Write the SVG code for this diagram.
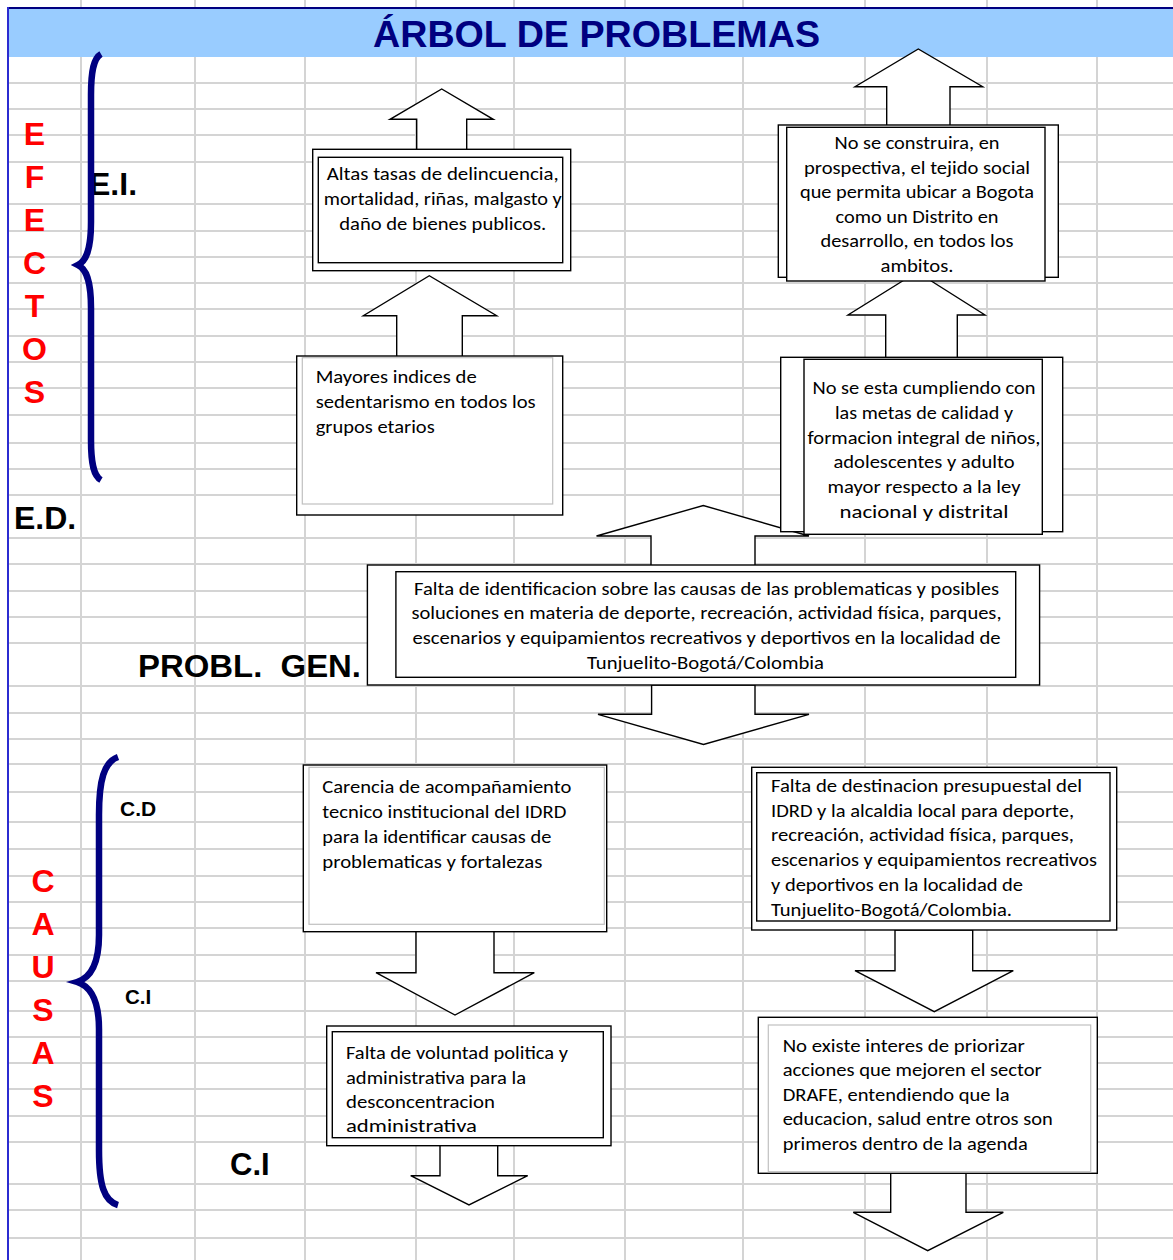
<svg xmlns="http://www.w3.org/2000/svg" width="1173" height="1260" viewBox="0 0 1173 1260">
<style>
.grid{stroke:#d4d4d4;stroke-width:2;fill:none}
.box{fill:#fff;stroke:#000;stroke-width:1.4}
.inner{fill:none;stroke:#000;stroke-width:1.4}
.inner-g{fill:none;stroke:#c0c0c0;stroke-width:1.2}
.arrow{fill:#fff;stroke:#000;stroke-width:1.4;stroke-linejoin:miter}
.brace{fill:none;stroke:#000080;stroke-width:6.5;stroke-linecap:butt}
.t{font-family:Carlito,Calibri,Lato,sans-serif;font-size:17.5px;fill:#000}
.c{text-anchor:middle}
.red{font-family:"Liberation Sans",Arial,sans-serif;font-weight:bold;font-size:32px;fill:#ff0000;text-anchor:middle}
.lbl{font-family:"Liberation Sans",Arial,sans-serif;font-weight:bold;fill:#000}
</style>
<rect width="1173" height="1260" fill="#fff"/>
<g id="grid">
<path class="grid" d="M81 0V8M195 0V8M305 0V8M416 0V8M514 0V8M625 0V8M743 0V8M865 0V8M987 0V8M1097 0V8
M81 57V1260M195 57V1260M305 57V1260M416 57V1260M514 57V1260M625 57V1260M743 57V1260M865 57V1260M987 57V1260M1097 57V1260
M8 83H1173M8 109H1173M8 135H1173M8 162H1173M8 204H1173M8 231H1173M8 257H1173M8 283H1173M8 309H1173M8 336H1173M8 362H1173M8 388H1173M8 415H1173M8 443H1173M8 469H1173M8 495H1173M8 538H1173M8 564H1173M8 591H1173M8 617H1173M8 643H1173M8 686H1173M8 713H1173M8 739H1173M8 764H1173M8 792H1173M8 822H1173M8 849H1173M8 876H1173M8 902H1173M8 928H1173M8 955H1173M8 981H1173M8 1011H1173M8 1037H1173M8 1063H1173M8 1089H1173M8 1116H1173M8 1142H1173M8 1184H1173M8 1210H1173M8 1238H1173"/>
</g>
<g id="header">
<rect x="8" y="8" width="1165" height="49" fill="#99ccff"/>
<line x1="8" y1="8" x2="1173" y2="8" stroke="#000080" stroke-width="2"/>
<line x1="8" y1="7" x2="8" y2="1260" stroke="#2b2bd0" stroke-width="2"/>
<text x="596.5" y="47" font-family="Liberation Sans, Arial, sans-serif" font-weight="bold" font-size="37" fill="#000080" text-anchor="middle" textLength="447" lengthAdjust="spacingAndGlyphs">ÁRBOL DE PROBLEMAS</text>
</g>
<g id="labels">
<text class="red" x="34.5" y="145">E</text>
<text class="red" x="34.5" y="188">F</text>
<text class="red" x="34.5" y="231">E</text>
<text class="red" x="34.5" y="274">C</text>
<text class="red" x="34.5" y="317">T</text>
<text class="red" x="34.5" y="360">O</text>
<text class="red" x="34.5" y="403">S</text>
<text class="red" x="43" y="892">C</text>
<text class="red" x="43" y="935">A</text>
<text class="red" x="43" y="978">U</text>
<text class="red" x="43" y="1021">S</text>
<text class="red" x="43" y="1064">A</text>
<text class="red" x="43" y="1107">S</text>
<text class="lbl" x="89" y="195" font-size="32">E.I.</text>
<text class="lbl" x="14" y="529" font-size="32">E.D.</text>
<text class="lbl" x="138" y="677" font-size="32" xml:space="preserve" textLength="223" lengthAdjust="spacingAndGlyphs">PROBL.  GEN.</text>
<text class="lbl" x="120" y="816" font-size="21">C.D</text>
<text class="lbl" x="125" y="1004" font-size="20.5">C.I</text>
<text class="lbl" x="230" y="1175" font-size="31">C.I</text>
</g>
<g id="braces">
<path class="brace" d="M101 54 C94 58 91 70 91 95 L91 222 C91 250 86 261 78 265 C86 269 91 280 91 308 L91 440 C91 465 94 476 101 480"/>
<path class="brace" d="M118 757 C104 762 99 780 99 815 L99 935 C99 965 90 978 77 982 C90 986 99 999 99 1029 L99 1150 C99 1185 104 1201 118 1205"/>
</g>
<g id="connectors">
<polygon class="arrow" points="416.7,150 416.7,119.3 390,119.3 441.7,89 493.3,119.3 466.7,119.3 466.7,150"/>
<polygon class="arrow" points="886.7,126 886.7,86.7 855,86.7 918.3,49 982.7,86.7 950,86.7 950,126"/>
<polygon class="arrow" points="396.7,357 396.7,315.7 363.3,315.7 429.3,275.7 496.7,315.7 462.3,315.7 462.3,357"/>
<polygon class="arrow" points="885.7,358 885.7,315 848,315 917,272 985,315 957.3,315 957.3,358"/>
<polygon class="arrow" points="651,566 651,536 596.5,536 703.3,505.5 809,536 755,536 755,566"/>
<polygon class="arrow" points="651.6,685 651.6,714.3 598,714.3 703.5,744.5 809,714.3 755,714.3 755,685"/>
<polygon class="arrow" points="416,931 416,972.7 376,972.7 455,1015 534.3,972.7 494,972.7 494,931"/>
<polygon class="arrow" points="440,1145 440,1175.7 410.7,1175.7 469,1205 527.7,1175.7 497.7,1175.7 497.7,1145"/>
<polygon class="arrow" points="895,930 895,970.7 855,970.7 934.3,1011.7 1013.3,970.7 972.7,970.7 972.7,930"/>
<polygon class="arrow" points="890.7,1173 890.7,1212.3 853.3,1212.3 927.7,1250.7 1003.3,1212.3 966,1212.3 966,1173"/>
</g>
<g id="node-altas-tasas">
<rect class="box" x="312.7" y="149.3" width="258" height="121.4"/>
<rect class="inner" x="318.3" y="157.3" width="244.4" height="105.4"/>
<text class="t c" x="442.7" y="180" textLength="232" lengthAdjust="spacingAndGlyphs">Altas tasas de delincuencia,</text>
<text class="t c" x="442.7" y="205" textLength="238" lengthAdjust="spacingAndGlyphs">mortalidad, riñas, malgasto y</text>
<text class="t c" x="442.7" y="229.5" textLength="207" lengthAdjust="spacingAndGlyphs">daño de bienes publicos.</text>
</g>
<g id="node-no-se-construira">
<rect class="box" x="778.3" y="125" width="280" height="152.3"/>
<rect class="box" x="786.7" y="127.3" width="258.3" height="153.7"/>
<text class="t c" x="917" y="149" textLength="165" lengthAdjust="spacingAndGlyphs">No se construira, en</text>
<text class="t c" x="917" y="173.5" textLength="226" lengthAdjust="spacingAndGlyphs">prospectiva, el tejido social</text>
<text class="t c" x="917" y="198" textLength="234" lengthAdjust="spacingAndGlyphs">que permita ubicar a Bogota</text>
<text class="t c" x="917" y="222.5" textLength="163" lengthAdjust="spacingAndGlyphs">como un Distrito en</text>
<text class="t c" x="917" y="247" textLength="193" lengthAdjust="spacingAndGlyphs">desarrollo, en todos los</text>
<text class="t c" x="917" y="271.5" textLength="73" lengthAdjust="spacingAndGlyphs">ambitos.</text>
</g>
<g id="node-mayores-indices">
<rect class="box" x="296.7" y="356" width="266" height="159"/>
<rect class="inner-g" x="302.3" y="357.7" width="250.4" height="146.3"/>
<text class="t" x="315.7" y="383" textLength="161" lengthAdjust="spacingAndGlyphs">Mayores indices de</text>
<text class="t" x="315.7" y="408" textLength="220" lengthAdjust="spacingAndGlyphs">sedentarismo en todos los</text>
<text class="t" x="315.7" y="433" textLength="119" lengthAdjust="spacingAndGlyphs">grupos etarios</text>
</g>
<g id="node-no-se-esta-cumpliendo">
<rect class="box" x="780.7" y="357.3" width="282" height="174.4"/>
<rect class="box" x="804" y="359.3" width="238.3" height="175"/>
<text class="t c" x="924" y="394" textLength="223" lengthAdjust="spacingAndGlyphs">No se esta cumpliendo con</text>
<text class="t c" x="924" y="419" textLength="178" lengthAdjust="spacingAndGlyphs">las metas de calidad y</text>
<text class="t c" x="924" y="443.5" textLength="233" lengthAdjust="spacingAndGlyphs">formacion integral de niños,</text>
<text class="t c" x="924" y="468" textLength="181" lengthAdjust="spacingAndGlyphs">adolescentes y adulto</text>
<text class="t c" x="924" y="493" textLength="193" lengthAdjust="spacingAndGlyphs">mayor respecto a la ley</text>
<text class="t c" x="924" y="518" textLength="169" lengthAdjust="spacingAndGlyphs">nacional y distrital</text>
</g>
<g id="node-problema-general">
<rect class="box" x="367.4" y="565" width="672.2" height="120"/>
<rect class="inner" x="395.9" y="571.7" width="619.8" height="105.6"/>
<text class="t c" x="706.5" y="594.5" textLength="585" lengthAdjust="spacingAndGlyphs">Falta de identificacion sobre las causas de las problematicas y posibles</text>
<text class="t c" x="706.5" y="619" textLength="590" lengthAdjust="spacingAndGlyphs">soluciones en materia de deporte, recreación, actividad física, parques,</text>
<text class="t c" x="706.5" y="644" textLength="588" lengthAdjust="spacingAndGlyphs">escenarios y equipamientos recreativos y deportivos en la localidad de</text>
<text class="t c" x="705.5" y="669" textLength="237" lengthAdjust="spacingAndGlyphs">Tunjuelito-Bogotá/Colombia</text>
</g>
<g id="node-carencia">
<rect class="box" x="303.3" y="765" width="303.4" height="166.7"/>
<rect class="inner-g" x="309" y="767.3" width="295.3" height="157"/>
<text class="t" x="322.3" y="793" textLength="249" lengthAdjust="spacingAndGlyphs">Carencia de acompañamiento</text>
<text class="t" x="322.3" y="818" textLength="244" lengthAdjust="spacingAndGlyphs">tecnico institucional del IDRD</text>
<text class="t" x="322.3" y="843" textLength="229" lengthAdjust="spacingAndGlyphs">para la identificar causas de</text>
<text class="t" x="322.3" y="868" textLength="220" lengthAdjust="spacingAndGlyphs">problematicas y fortalezas</text>
</g>
<g id="node-falta-voluntad">
<rect class="box" x="326.7" y="1026" width="284.3" height="119.7"/>
<rect class="inner" x="332.3" y="1031.7" width="271" height="106"/>
<text class="t" x="346" y="1059" textLength="222" lengthAdjust="spacingAndGlyphs">Falta de voluntad politica y</text>
<text class="t" x="346" y="1083.5" textLength="180" lengthAdjust="spacingAndGlyphs">administrativa para la</text>
<text class="t" x="346" y="1108" textLength="149" lengthAdjust="spacingAndGlyphs">desconcentracion</text>
<text class="t" x="346" y="1132" textLength="131" lengthAdjust="spacingAndGlyphs">administrativa</text>
</g>
<g id="node-falta-destinacion">
<rect class="box" x="751.7" y="767.3" width="365" height="162.7"/>
<rect class="inner" x="756.7" y="772.7" width="353.3" height="148.3"/>
<text class="t" x="771" y="792" textLength="311" lengthAdjust="spacingAndGlyphs">Falta de destinacion presupuestal del</text>
<text class="t" x="771" y="816.7" textLength="303" lengthAdjust="spacingAndGlyphs">IDRD y la alcaldia local para deporte,</text>
<text class="t" x="771" y="841.4" textLength="303" lengthAdjust="spacingAndGlyphs">recreación, actividad física, parques,</text>
<text class="t" x="771" y="866" textLength="326" lengthAdjust="spacingAndGlyphs">escenarios y equipamientos recreativos</text>
<text class="t" x="771" y="890.8" textLength="252" lengthAdjust="spacingAndGlyphs">y deportivos en la localidad de</text>
<text class="t" x="771" y="915.5" textLength="241" lengthAdjust="spacingAndGlyphs">Tunjuelito-Bogotá/Colombia.</text>
</g>
<g id="node-no-existe-interes">
<rect class="box" x="758.3" y="1017.3" width="339" height="156"/>
<rect class="inner-g" x="768.3" y="1025" width="322.4" height="146.7"/>
<text class="t" x="782.7" y="1051.5" textLength="242" lengthAdjust="spacingAndGlyphs">No existe interes de priorizar</text>
<text class="t" x="782.7" y="1076" textLength="259" lengthAdjust="spacingAndGlyphs">acciones que mejoren el sector</text>
<text class="t" x="782.7" y="1100.7" textLength="227" lengthAdjust="spacingAndGlyphs">DRAFE, entendiendo que la</text>
<text class="t" x="782.7" y="1125.3" textLength="270" lengthAdjust="spacingAndGlyphs">educacion, salud entre otros son</text>
<text class="t" x="782.7" y="1150" textLength="245" lengthAdjust="spacingAndGlyphs">primeros dentro de la agenda</text>
</g>
</svg>
